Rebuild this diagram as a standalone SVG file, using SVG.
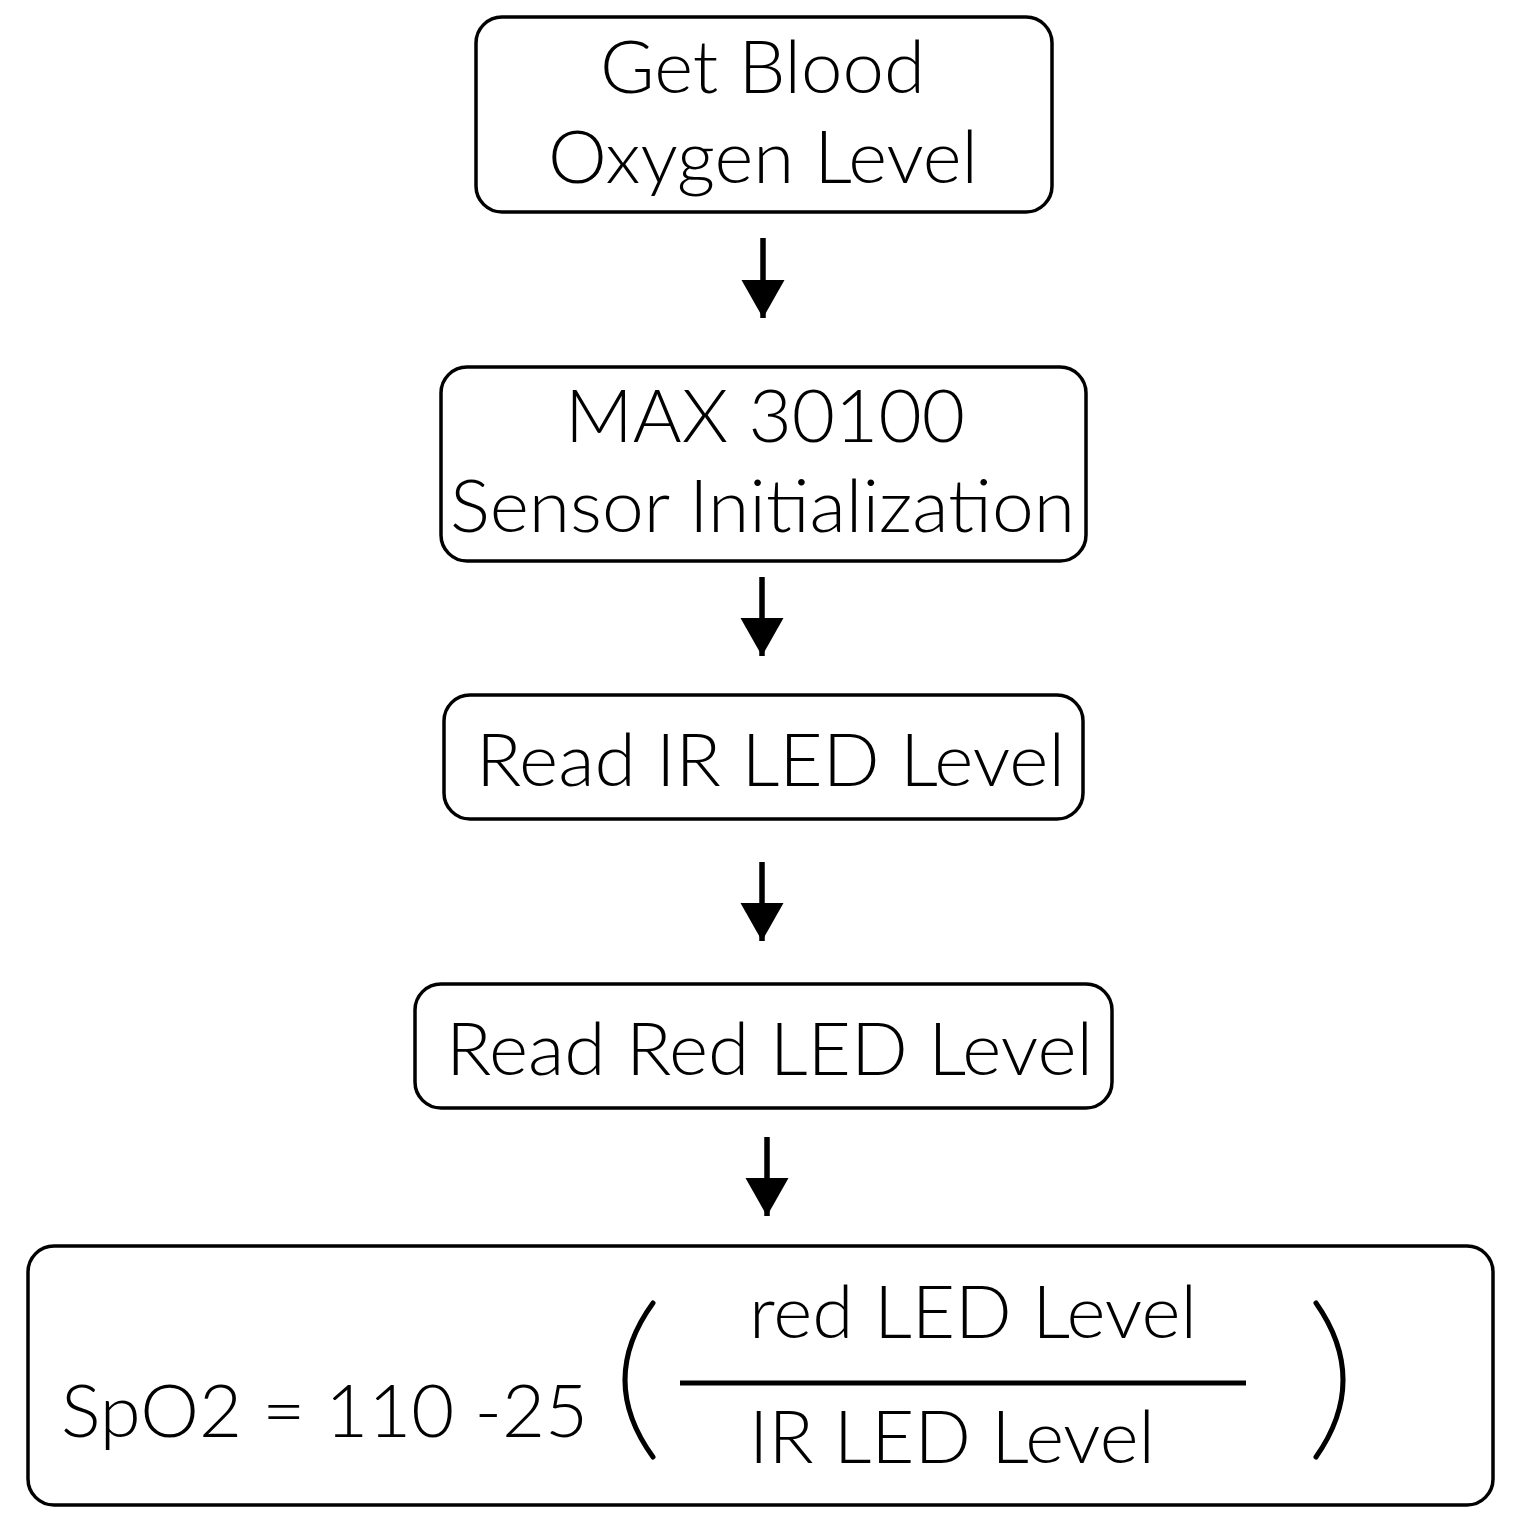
<svg xmlns="http://www.w3.org/2000/svg" width="1516" height="1529" viewBox="0 0 1516 1529">
<style>
.box{fill:#fff;stroke:#000;stroke-width:3.5}
.t{font-family:Lato,"Open Sans",sans-serif;font-weight:300;font-size:73px;fill:#000}
.c{stroke:#000;stroke-width:5.5;fill:none}
.p{stroke:#000;stroke-width:5;fill:none;stroke-linecap:round}
</style>
<defs>
<marker id="ah" markerUnits="userSpaceOnUse" markerWidth="40" markerHeight="44" refX="38" refY="21.5" orient="auto">
<path d="M0,0 L38,21.5 L0,43 Z" fill="#000"/>
</marker>
</defs>
<rect width="1516" height="1529" fill="#fff"/>
<g id="connectors">
<line class="c" x1="763" y1="238" x2="763" y2="318" marker-end="url(#ah)"/>
<line class="c" x1="762" y1="577" x2="762" y2="656" marker-end="url(#ah)"/>
<line class="c" x1="762" y1="862" x2="762" y2="941" marker-end="url(#ah)"/>
<line class="c" x1="767" y1="1137" x2="767" y2="1216" marker-end="url(#ah)"/>
</g>
<g id="n1">
<rect class="box" x="476" y="17" width="576" height="195" rx="26"/>
<text class="t" x="600" y="93" textLength="325" lengthAdjust="spacingAndGlyphs">Get Blood</text>
<text class="t" x="548" y="183" textLength="430" lengthAdjust="spacingAndGlyphs">Oxygen Level</text>
</g>
<g id="n2">
<rect class="box" x="441" y="367" width="645" height="194" rx="26"/>
<text class="t" x="565" y="442" textLength="400" lengthAdjust="spacingAndGlyphs">MAX 30100</text>
<text class="t" x="450" y="532" textLength="625" lengthAdjust="spacingAndGlyphs">Sensor Initialization</text>
</g>
<g id="n3">
<rect class="box" x="444" y="695" width="639" height="124" rx="26"/>
<text class="t" x="476" y="786" textLength="589" lengthAdjust="spacingAndGlyphs">Read IR LED Level</text>
</g>
<g id="n4">
<rect class="box" x="415" y="984" width="697" height="124" rx="26"/>
<text class="t" x="446" y="1075" textLength="647" lengthAdjust="spacingAndGlyphs">Read Red LED Level</text>
</g>
<g id="n5">
<rect class="box" x="28" y="1246" width="1465" height="259" rx="26"/>
<text class="t" x="61" y="1437" textLength="527" lengthAdjust="spacingAndGlyphs">SpO2 = 110 -25</text>
<path class="p" d="M653,1303 Q597,1380 653,1457"/>
<line x1="680" y1="1383" x2="1246" y2="1383" stroke="#000" stroke-width="5"/>
<text class="t" x="749" y="1338" textLength="448" lengthAdjust="spacingAndGlyphs">red LED Level</text>
<text class="t" x="749" y="1463" textLength="406" lengthAdjust="spacingAndGlyphs">IR LED Level</text>
<path class="p" d="M1316,1303 Q1370,1380 1316,1457"/>
</g>
</svg>
